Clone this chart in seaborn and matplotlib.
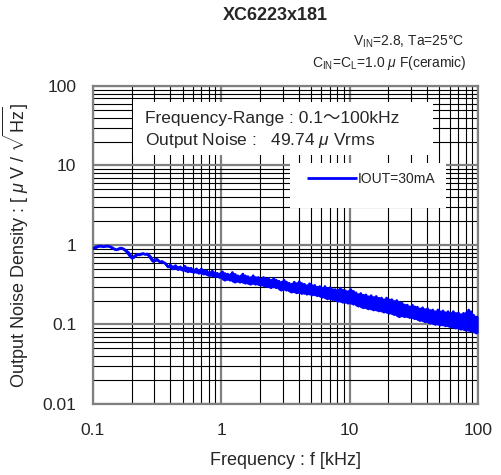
import matplotlib
matplotlib.use('Agg')
import matplotlib.pyplot as plt
from matplotlib.patches import Rectangle
from matplotlib.lines import Line2D
from matplotlib.ticker import FixedLocator, NullFormatter, LogLocator
import seaborn as sns
import pandas as pd

# frequency [kHz]
freq_khz = [
    0.100, 0.105, 0.110, 0.115, 0.120, 0.125, 0.130, 0.136, 0.142, 0.148,
    0.153, 0.158, 0.163, 0.168, 0.175, 0.182, 0.190, 0.197, 0.202, 0.208,
    0.215, 0.222, 0.230, 0.238, 0.246, 0.255, 0.265, 0.275, 0.285, 0.295,
    0.305, 0.315, 0.325, 0.335, 0.345, 0.355, 0.365, 0.375, 0.385, 0.395,
    0.40, 0.42, 0.44, 0.46, 0.48, 0.50, 0.52, 0.55, 0.58, 0.61,
    0.64, 0.67, 0.70, 0.73, 0.77, 0.81, 0.85, 0.89, 0.93, 0.97,
    1.02, 1.07, 1.12, 1.17, 1.22, 1.28, 1.34, 1.40, 1.47, 1.54,
    1.61, 1.69, 1.77, 1.85, 1.94, 2.03, 2.13, 2.23, 2.33, 2.44,
    2.56, 2.68, 2.81, 2.94, 3.08, 3.22, 3.37, 3.53, 3.70, 3.87,
    4.05, 4.24, 4.44, 4.65, 4.87, 5.10, 5.34, 5.59, 5.85, 6.13,
    6.42, 6.72, 7.04, 7.37, 7.72, 8.08, 8.46, 8.86, 9.28, 9.72,
    10.2, 10.7, 11.2, 11.7, 12.2, 12.8, 13.4, 14.0, 14.7, 15.4,
    16.1, 16.9, 17.7, 18.5, 19.4, 20.3, 21.3, 22.3, 23.3, 24.4,
    25.6, 26.8, 28.1, 29.4, 30.8, 32.2, 33.7, 35.3, 37.0, 38.7,
    40.5, 42.4, 44.4, 46.5, 48.7, 51.0, 53.4, 55.9, 58.5, 61.3,
    64.2, 67.2, 70.4, 73.7, 77.2, 80.8, 84.6, 88.6, 92.8, 97.2, 100.0,
]
# output noise density [uV/sqrt(Hz)], IOUT=30mA
noise_uv = [
    0.90, 0.94, 0.96, 0.97, 0.95, 0.96, 0.97, 0.95, 0.92, 0.88,
    0.87, 0.89, 0.91, 0.91, 0.88, 0.84, 0.78, 0.71, 0.68, 0.71,
    0.74, 0.76, 0.75, 0.77, 0.78, 0.76, 0.77, 0.73, 0.67, 0.62,
    0.65, 0.66, 0.63, 0.61, 0.62, 0.60, 0.59, 0.56, 0.53, 0.53,
    0.56, 0.50, 0.55, 0.49, 0.53, 0.48, 0.54, 0.46, 0.51, 0.45,
    0.50, 0.44, 0.50, 0.43, 0.47, 0.41, 0.47, 0.40, 0.44, 0.39,
    0.46, 0.36, 0.43, 0.36, 0.45, 0.34, 0.41, 0.34, 0.43, 0.33,
    0.40, 0.32, 0.41, 0.32, 0.39, 0.31, 0.39, 0.30, 0.38, 0.29,
    0.38, 0.29, 0.35, 0.27, 0.36, 0.27, 0.33, 0.255, 0.34, 0.25,
    0.345, 0.245, 0.32, 0.24, 0.325, 0.235, 0.31, 0.23, 0.30, 0.22,
    0.30, 0.21, 0.29, 0.205, 0.275, 0.195, 0.285, 0.19, 0.265, 0.185,
    0.275, 0.18, 0.25, 0.17, 0.245, 0.162, 0.235, 0.157, 0.23, 0.152,
    0.225, 0.148, 0.215, 0.143, 0.215, 0.138, 0.205, 0.133, 0.20, 0.125,
    0.185, 0.125, 0.175, 0.122, 0.175, 0.118, 0.165, 0.112, 0.162, 0.108,
    0.158, 0.104, 0.152, 0.10, 0.152, 0.098, 0.148, 0.096, 0.145, 0.093,
    0.145, 0.09, 0.14, 0.087, 0.138, 0.084, 0.152, 0.082, 0.13, 0.078, 0.125,
]

x_ticks = [0.1, 1, 10, 100]
x_labels = ['0.1', '1', '10', '100']
y_ticks = [0.01, 0.1, 1, 10, 100]
y_labels = ['0.01', '0.1', '1', '10', '100']

sns.set_style('white')
plt.rcParams['font.family'] = ['Liberation Sans', 'Noto Sans CJK JP', 'DejaVu Sans']
plt.rcParams['mathtext.fontset'] = 'custom'
plt.rcParams['mathtext.rm'] = 'Liberation Sans'
plt.rcParams['mathtext.it'] = 'Liberation Sans:italic'

df = pd.DataFrame({'f': freq_khz, 'noise': noise_uv})
# envelope of neighbouring readings, so the noisy trace reads as a solid band
df['hi'] = df['noise'].rolling(3, center=True, min_periods=1).max()
df['lo'] = df['noise'].rolling(3, center=True, min_periods=1).min()

fig = plt.figure(figsize=(5.01, 4.75), dpi=100)
ax = fig.add_axes([0.1856, 0.1495, 0.7685, 0.6695])

ax.fill_between(df['f'], df['lo'], df['hi'], color='#0000FF', lw=0, zorder=3)
sns.lineplot(data=df, x='f', y='noise', ax=ax, color='#0000FF', lw=2.0,
             sort=False, estimator=None, zorder=3)

ax.set_xscale('log')
ax.set_yscale('log')
ax.set_xlim(0.1, 100)
ax.set_ylim(0.01, 100)

ax.xaxis.set_major_locator(FixedLocator(x_ticks))
ax.set_xticklabels(x_labels)
ax.yaxis.set_major_locator(FixedLocator(y_ticks))
ax.set_yticklabels(y_labels)
for a in (ax.xaxis, ax.yaxis):
    a.set_minor_locator(LogLocator(base=10, subs=range(2, 10)))
    a.set_minor_formatter(NullFormatter())

ax.set_axisbelow(True)
ax.grid(which='major', color='#808080', lw=1.6)
ax.grid(which='minor', color='black', lw=0.8)
ax.tick_params(which='both', length=0, labelsize=12.5)
ax.tick_params(axis='x', pad=14)
ax.tick_params(axis='y', pad=12)
for s in ax.spines.values():
    s.set_color('#808080')
    s.set_linewidth(1.6)

ax.set_xlabel('Frequency : f [kHz]', fontsize=13)
ax.set_ylabel(r'Output Noise Density : [ $\mu$ V / $\sqrt{\mathrm{Hz}}$]', fontsize=13)
ax.xaxis.set_label_coords(0.5, -0.15)
ax.yaxis.set_label_coords(-0.16, 0.5)

# white boxes over the grid
ax.add_patch(Rectangle((0.104, 0.783), 0.779, 0.167, transform=ax.transAxes,
                       facecolor='white', edgecolor='none', zorder=2))
ax.add_patch(Rectangle((0.512, 0.616), 0.405, 0.142, transform=ax.transAxes,
                       facecolor='white', edgecolor='none', zorder=2))
ax.text(0.135, 0.899, 'Frequency-Range : 0.1\u301c100kHz', transform=ax.transAxes,
        fontsize=12.5, va='center', ha='left', zorder=4)
ax.text(0.135, 0.830, 'Output Noise :   49.74 $\\mu$ Vrms', transform=ax.transAxes,
        fontsize=12.5, va='center', ha='left', zorder=4)

handle = Line2D([], [], color='#0000FF', lw=2.0, solid_capstyle='butt')
ax.legend([handle], ['IOUT=30mA'], loc='center left', bbox_to_anchor=(0.556, 0.7075),
          frameon=False, fontsize=10, handlelength=3.6, handletextpad=0.05,
          borderpad=0, borderaxespad=0)

fig.text(0.549, 0.968, 'XC6223x181', fontsize=13, fontweight='bold',
         ha='center', va='center')
fig.text(0.926, 0.912, r'$\mathregular{V_{IN}}$=2.8, Ta=25°C',
         fontsize=10, ha='right', va='center')
fig.text(0.932, 0.868, r'$\mathregular{C_{IN}}$=$\mathregular{C_L}$=1.0 $\mu$ F(ceramic)',
         fontsize=10, ha='right', va='center')

fig.savefig('out.png', dpi=100)
